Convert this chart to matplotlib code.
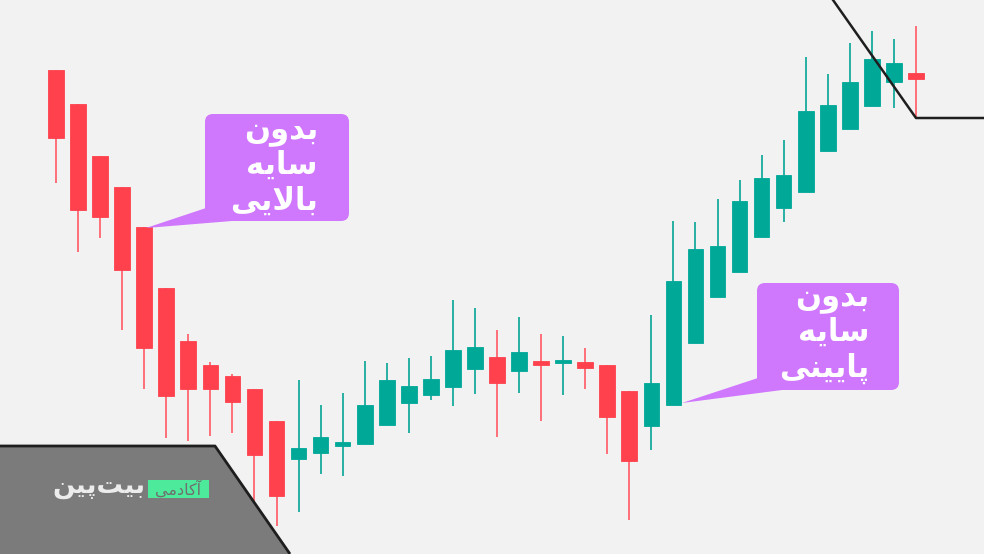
import matplotlib
matplotlib.use("Agg")
import matplotlib.pyplot as plt
from matplotlib.patches import FancyBboxPatch, Polygon
import numpy as np

# ---- data (price units) ----
opens  = [484, 450, 398, 367, 327, 266, 213, 189, 178, 165, 133,
          95, 101, 108, 110, 129, 151, 159, 167, 185, 197, 183, 193, 191, 192, 189, 163,
          128, 149, 211, 257, 282, 317, 346, 362, 403, 425, 448, 472, 481]
closes = [416, 344, 337, 284, 206, 158, 165, 165, 152, 99, 58,
          106, 117, 112, 149, 174, 168, 175, 204, 207, 171, 202, 189, 193, 186, 137, 93,
          171, 273, 305, 308, 353, 376, 379, 443, 449, 472, 495, 491, 475]
highs  = [484, 450, 398, 367, 327, 266, 220, 192, 180, 165, 133,
          174, 149, 161, 193, 191, 196, 198, 254, 246, 224, 237, 220, 218, 206, 189, 163,
          239, 333, 332, 355, 374, 399, 414, 497, 480, 511, 523, 515, 528]
lows   = [371, 302, 316, 224, 165, 116, 113, 118, 121, 52, 28,
          42, 80, 78, 110, 129, 121, 154, 148, 160, 117, 161, 133, 159, 165, 100, 34,
          104, 149, 211, 257, 282, 317, 332, 362, 403, 425, 448, 446, 436]

label_top = ["\uFEE5\uFEED\uFEAA\uFE91",              # بدون
             "\uFEEA\uFEF3\uFE8E\uFEB3",              # سایه
             "\uFEF0\uFEF3\uFEFB\uFE8E\uFE91"]        # بالایی
label_bottom = ["\uFEE5\uFEED\uFEAA\uFE91",           # بدون
                "\uFEEA\uFEF3\uFE8E\uFEB3",           # سایه
                "\uFEF0\uFEE8\uFEF4\uFEF3\uFE8E\uFB58"]  # پایینی
logo_main = "\uFEE6\uFEF4\uFB58\uFE96\uFEF4\uFE91"    # بیت‌پین
logo_tag = "\uFEF0\uFEE3\uFEA9\uFE8E\uFB90\uFE81"     # آکادمی

RED, GREEN = "#ff414d", "#00a898"
RED_W, GREEN_W = "#ff6f78", "#27b0a2"
BG = "#f2f2f2"
PURPLE = "#cf77fd"

fig = plt.figure(figsize=(9.84, 5.54), dpi=100, facecolor=BG)
ax = fig.add_axes([0, 0, 1, 1])
ax.set_facecolor(BG)

x = np.arange(len(opens))
o = np.array(opens); c = np.array(closes); h = np.array(highs); l = np.array(lows)
up = c >= o
cols = np.where(up, GREEN, RED)
wcols = np.where(up, GREEN_W, RED_W)
ax.vlines(x, l, h, colors=wcols, linewidth=1.4, zorder=2)
ax.bar(x, np.maximum(np.abs(c - o), 3), bottom=np.minimum(o, c), width=0.71,
       color=cols, edgecolor=cols, linewidth=0.6, zorder=3)

ax.set_xlim(-56 / 22.05, (984 - 56) / 22.05)
ax.set_ylim(0, 554)
ax.axis("off")

# ---- decoration overlay in pixel coordinates ----
ov = fig.add_axes([0, 0, 1, 1], zorder=5)
ov.set_xlim(0, 984); ov.set_ylim(554, 0)
ov.axis("off"); ov.patch.set_alpha(0)

# bottom-left panel
ov.add_patch(Polygon([(0, 446), (215, 446), (290, 554), (0, 554)], closed=True,
                     facecolor="#7b7b7b", edgecolor="none"))
ov.plot([0, 215, 290], [446, 446, 554], color="#1e1e1e", lw=2, solid_capstyle="butt")
ov.add_patch(plt.Rectangle((148, 480), 61, 18, facecolor="#4eea9c", edgecolor="none"))
ov.text(178.5, 489, logo_tag, ha="center", va="center", fontsize=11.5,
        color="#6f6f6f", family="DejaVu Sans")
ov.text(145, 487, logo_main, ha="right", va="center", fontsize=19,
        color="#ececec", family="DejaVu Sans", fontweight="bold")

# top-right line
ov.plot([833, 916, 984], [0, 118, 118], color="#1e1e1e", lw=1.8)

# callouts
def callout(x0, y0, x1, y1, tail, lines, xr, baselines):
    ov.add_patch(Polygon(tail, closed=True, facecolor=PURPLE, edgecolor="none"))
    ov.add_patch(FancyBboxPatch((x0 + 8, y0 + 8), x1 - x0 - 16, y1 - y0 - 16,
                                boxstyle="round,pad=8", facecolor=PURPLE,
                                edgecolor="none"))
    for t, yb in zip(lines, baselines):
        ov.text(xr, yb, t, ha="right", va="baseline", fontsize=22, color="white",
                family="DejaVu Sans", fontweight="bold")

callout(205, 114, 349, 221, [(206, 208), (146, 228), (232, 221)],
        label_top, 318, [139, 174, 210])
callout(757, 283, 899, 390, [(758, 378), (682, 403), (782, 390)],
        label_bottom, 869, [306, 341, 377])

fig.savefig("out.png", dpi=100, facecolor=BG)
